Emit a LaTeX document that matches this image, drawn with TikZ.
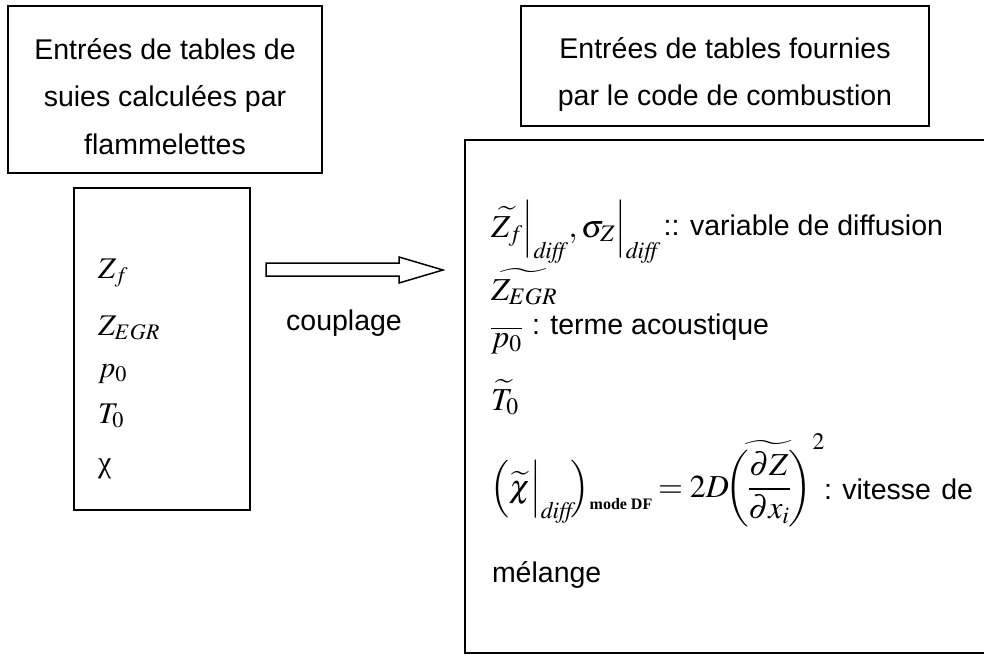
\documentclass[tikz,border=0pt]{standalone}
\usepackage{mathptmx}
\usepackage{amsmath}
\usepackage[no-math]{fontspec}
\setmainfont{Liberation Sans}
\newfontfamily\lserif{Liberation Serif}
\newcommand{\txtfs}{\fontsize{28.5}{34}\selectfont}
\newcommand{\mfs}{\fontsize{30}{36}\selectfont}
\newcommand{\mfsr}{\fontsize{32}{38}\selectfont}
\newcommand{\modedf}{\raisebox{9pt}{\fontsize{16}{16}\selectfont\lserif\bfseries mode DF}}
\begin{document}
\begin{tikzpicture}[x=1pt,y=-1pt,
  boxn/.style={draw=black,line width=1.8,inner sep=0,outer sep=0},
  txt/.style={inner sep=0,outer sep=0,anchor=base,font=\txtfs},
  txtl/.style={inner sep=0,outer sep=0,anchor=base west,font=\txtfs},
  txtr/.style={inner sep=0,outer sep=0,anchor=base east,font=\txtfs},
  mth/.style={inner sep=0,outer sep=0,anchor=base west,font=\mfs},
  mthr/.style={inner sep=0,outer sep=0,anchor=base west,font=\mfsr}]
\useasboundingbox (0,0) rectangle (984,655);
\clip (0,0) rectangle (984,655);
% boxes
\node[boxn,minimum width=314,minimum height=167] (b1) at (165,89.5) {};
\node[boxn,minimum width=176,minimum height=322] (b2) at (162,349) {};
\node[boxn,minimum width=408,minimum height=120] (b3) at (725,66) {};
\node[boxn,minimum width=535,minimum height=513] (b4) at (732.5,396.5) {};
% top-left box text
\node[txt] (t11) at (165,60) {Entrées de tables de};
\node[txt] (t12) at (165,107) {suies calculées par};
\node[txt] (t13) at (165,155) {flammelettes};
% top-right box text
\node[txt] (t31) at (725,59) {Entrées de tables fournies};
\node[txt] (t32) at (725,106) {par le code de combustion};
% left list
\node[mth] (l1) at (98,278) {$Z_f$};
\node[mth] (l2) at (98,335) {$Z_{EGR}$};
\node[mth] (l3) at (98,377) {$p_0$};
\node[mth] (l4) at (98,423) {$T_0$};
\node[mth] (l5) at (98,472) {\lserif χ};
% arrow
\draw[line width=1.5,line join=miter] (266,263) -- (399,263) -- (399,257) -- (443,270) -- (399,283) -- (399,276) -- (266,276) -- cycle;
\node[txt] (cp) at (344,330) {couplage};
% right box content
\node[mthr] (r1) at (491,237) {$\widetilde{Z_f}\Big|_{\mathit{diff}}, \sigma_Z\Big|_{\mathit{diff}}$};
\node[txtr] (r1t) at (943,235) {:: variable de diffusion};
\node[mthr] (r2) at (491,300) {$\widetilde{Z_{EGR}}$};
\node[mthr] (r3) at (491,347) {$\overline{p_0}$};
\node[txtl] (r3t) at (532,334) {: terme acoustique};
\node[mthr] (r4) at (491,410) {$\widetilde{T_0}$};
\node[mthr] (r5a) at (490,497) {$\Bigl(\widetilde{\chi}\Big|_{\mathit{diff}}\mkern-3mu\Bigr)_{\modedf}$};
\node[mthr] (r5b) at (658,497) {$=2D\mkern-2mu\widetilde{\left(\mkern-1mu\dfrac{\partial Z}{\partial x_i}\mkern-1mu\right)}^{2}$};
\node[txtl] (r5t) at (824,499) {\makebox[149pt][s]{:\ vitesse\ de}};
\node[txtl] (r6) at (492,582) {mélange};
\end{tikzpicture}
\end{document}
